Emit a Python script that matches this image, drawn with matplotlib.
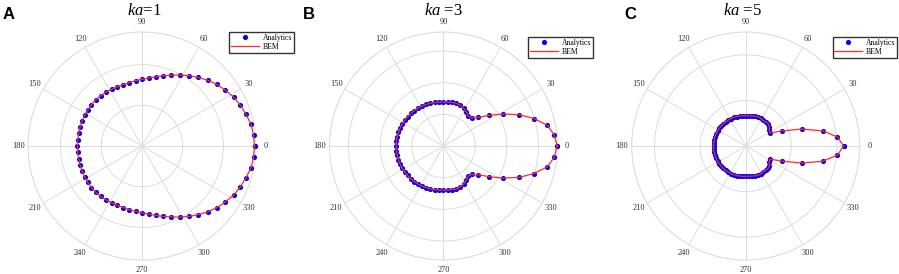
import numpy as np
import matplotlib
matplotlib.use('Agg')
import matplotlib.pyplot as plt

plt.rcParams['font.family'] = 'Liberation Serif'
plt.rcParams['mathtext.fontset'] = 'custom'
plt.rcParams['mathtext.it'] = 'Liberation Serif:italic'
plt.rcParams['mathtext.rm'] = 'Liberation Serif'

# sample spacing of the pattern (deg); values below are 0..180 deg, mirrored
STEP_DEG = 5.625

# directivity, ka = 1 (0 .. 180 deg)
R_KA1 = [1.383, 1.377, 1.367, 1.336, 1.308, 1.277, 1.233, 1.192, 1.143,
         1.090, 1.040, 0.990, 0.943, 0.903, 0.868, 0.839, 0.820, 0.806,
         0.795, 0.789, 0.788, 0.790, 0.795, 0.800, 0.803, 0.803, 0.801,
         0.799, 0.797, 0.795, 0.794, 0.793, 0.793]
# ka = 3
R_KA3 = [1.795, 1.760, 1.674, 1.495, 1.293, 1.074, 0.873, 0.714, 0.627,
         0.616, 0.647, 0.679, 0.695, 0.706, 0.703, 0.698, 0.695, 0.698,
         0.703, 0.707, 0.712, 0.717, 0.722, 0.726, 0.730, 0.733, 0.736,
         0.739, 0.742, 0.744, 0.745, 0.747, 0.747]
# ka = 5
R_KA5 = [1.073, 1.011, 0.859, 0.641, 0.435, 0.304, 0.310, 0.337, 0.348,
         0.342, 0.337, 0.348, 0.348, 0.342, 0.337, 0.332, 0.332, 0.334,
         0.336, 0.338, 0.340, 0.342, 0.344, 0.346, 0.347, 0.348, 0.349,
         0.350, 0.351, 0.351, 0.352, 0.352, 0.352]

TITLES = [r'$\mathit{ka}$=1', r'$\mathit{ka}\ $=3', r'$\mathit{ka}\ $=5']
LETTERS = ['A', 'B', 'C']
RMAX = [1.4, 1.8, 1.25]
RINGS = [[0.5, 1.0], [0.5, 1.0, 1.5], [0.5, 1.0]]
THETA_TICKS = list(range(0, 360, 30))

GRID_COLOR = '#dcdcdc'
DOT_COLOR = '#0000ff'
LINE_COLOR = '#ff2a2a'


def full_pattern(half):
    r = list(half) + list(half[-2:0:-1])
    r = np.array(r + [r[0]])
    th = np.deg2rad(np.arange(len(r)) * STEP_DEG)
    return th, r


fig = plt.figure(figsize=(8.99, 2.74), dpi=100)

ax_lefts = [0.0311, 0.3665, 0.7027]
title_x = [0.161, 0.493, 0.826]
letter_x = [0.0033, 0.337, 0.695]
legend_anchor = [(0.327, 0.883), (0.6596, 0.865), (0.9978, 0.865)]

for i, half in enumerate([R_KA1, R_KA3, R_KA5]):
    ax = fig.add_axes([ax_lefts[i], 0.051, 0.2536, 0.832], projection='polar')
    th, r = full_pattern(half)
    ax.plot(th, r, 'o', color=DOT_COLOR, ms=3.7, mec='none', zorder=3,
            clip_on=False, label='Analytics')
    ax.plot(th, r, '-', color=LINE_COLOR, lw=0.9, zorder=4,
            clip_on=False, label='BEM')
    ax.set_rmax(RMAX[i])
    ax.set_rticks(RINGS[i])
    ax.set_yticklabels([])
    ax.set_thetagrids(THETA_TICKS, labels=[str(d) for d in THETA_TICKS])
    ax.tick_params(axis='x', labelsize=6, labelcolor='#333333', pad=-3.5)
    ax.grid(color=GRID_COLOR, lw=0.7)
    ax.spines['polar'].set_color(GRID_COLOR)
    ax.spines['polar'].set_linewidth(0.8)

    leg = ax.legend(loc='upper right', bbox_to_anchor=legend_anchor[i],
                    bbox_transform=fig.transFigure, fontsize=5.5,
                    fancybox=False, framealpha=1, edgecolor='#333333',
                    handlelength=3.6, borderpad=0.25, labelspacing=0.15,
                    handletextpad=0.5, borderaxespad=0)
    leg.get_frame().set_linewidth(1.0)

    fig.text(title_x[i], 0.945, TITLES[i], ha='center', va='baseline',
             fontsize=12)
    fig.text(letter_x[i], 0.931, LETTERS[i], ha='left', va='baseline',
             fontsize=12, fontweight='bold', family='Liberation Sans')

fig.savefig('out.png', dpi=100)
